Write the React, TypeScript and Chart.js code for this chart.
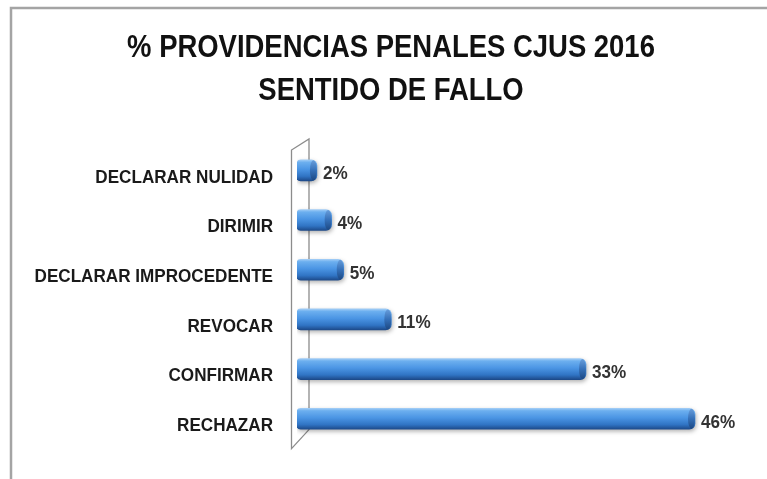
import React, { useEffect, useRef } from 'react';
import { Chart, registerables } from 'chart.js';

Chart.register(...registerables);

const TITLE_LINES = ['% PROVIDENCIAS PENALES CJUS 2016', 'SENTIDO DE FALLO'];
const CATEGORIES = [
  'DECLARAR NULIDAD',
  'DIRIMIR',
  'DECLARAR IMPROCEDENTE',
  'REVOCAR',
  'CONFIRMAR',
  'RECHAZAR',
];
// percentages (labels show them rounded)
const VALUES = [2.3, 4.0, 5.4, 10.9, 33.4, 46.0];
const X_MIN = 0;
const X_MAX = 50;

const FONT = '"Liberation Sans", Arial, Helvetica, sans-serif';
const BAR_H = 21;
const SQUEEZE = 0.9;
const TICK_PAD = 24;

const decorPlugin = {
  id: 'decor',
  afterLayout(chart: any) {
    const s = chart.scales && chart.scales.y;
    if (s && !s.__squeezed) {
      const orig = s.drawLabels.bind(s);
      s.drawLabels = (area: any) => {
        const ctx = s.ctx;
        const ax = s.right - TICK_PAD;
        ctx.save();
        ctx.translate(ax, 0);
        ctx.scale(SQUEEZE, 1);
        ctx.translate(-ax, 0);
        orig(area);
        ctx.restore();
      };
      s.__squeezed = true;
    }
  },
  beforeDraw(chart: any) {
    const { ctx } = chart;
    ctx.save();
    ctx.fillStyle = '#ffffff';
    ctx.fillRect(0, 0, chart.width, chart.height);
    // outer frame (top & left)
    ctx.strokeStyle = '#a4a4a4';
    ctx.lineWidth = 2.5;
    ctx.beginPath();
    ctx.moveTo(11, chart.height + 5);
    ctx.lineTo(11, 8);
    ctx.lineTo(chart.width + 5, 8);
    ctx.stroke();
    // title
    ctx.fillStyle = '#111111';
    ctx.font = `bold 30.5px ${FONT}`;
    ctx.textAlign = 'center';
    ctx.textBaseline = 'alphabetic';
    TITLE_LINES.forEach((t, i) => {
      ctx.save();
      ctx.translate(391, 57 + i * 43);
      ctx.scale(SQUEEZE, 1);
      ctx.fillText(t, 0, 0);
      ctx.restore();
    });
    ctx.restore();
  },
  beforeDatasetsDraw(chart: any) {
    const { ctx, chartArea: a } = chart;
    ctx.save();
    ctx.strokeStyle = '#8c8c8c';
    ctx.lineWidth = 1.3;
    const fx = a.left - 5.5;
    const bx = a.left + 12;
    ctx.beginPath();
    ctx.moveTo(fx, a.top + 4.5);
    ctx.lineTo(fx, a.bottom + 5);
    ctx.lineTo(bx, a.bottom - 14);
    ctx.lineTo(bx, a.top - 6.5);
    ctx.closePath();
    ctx.stroke();
    ctx.restore();
    ctx.save();
    ctx.shadowColor = 'rgba(0,0,0,0.3)';
    ctx.shadowBlur = 4;
    ctx.shadowOffsetX = 1;
    ctx.shadowOffsetY = 2;
  },
  afterDatasetsDraw(chart: any) {
    const { ctx } = chart;
    ctx.restore();
    const meta = chart.getDatasetMeta(0);
    meta.data.forEach((el: any, i: number) => {
      const { x, y, height } = el.getProps(['x', 'y', 'height'], true);
      const h = height;
      if (![x, y, h].every(Number.isFinite)) return;
      // darker end cap of the cylinder
      const g = ctx.createLinearGradient(0, y - h / 2, 0, y + h / 2);
      g.addColorStop(0, '#6a9fdc');
      g.addColorStop(0.5, '#3570b8');
      g.addColorStop(1, '#1b4680');
      ctx.save();
      ctx.fillStyle = g;
      ctx.beginPath();
      ctx.ellipse(x - 3.5, y, 3.5, h / 2 - 0.5, 0, 0, Math.PI * 2);
      ctx.fill();
      ctx.restore();
      // value label
      ctx.save();
      ctx.fillStyle = '#333333';
      ctx.font = `bold 19px ${FONT}`;
      ctx.textAlign = 'left';
      ctx.textBaseline = 'alphabetic';
      ctx.translate(x + 6, y + 9);
      ctx.scale(SQUEEZE, 1);
      ctx.fillText(`${Math.round(VALUES[i])}%`, 0, 0);
      ctx.restore();
    });
  },
};

export default function App() {
  const ref = useRef<HTMLCanvasElement | null>(null);

  useEffect(() => {
    if (!ref.current) return;
    const chart = new Chart(ref.current, {
      type: 'bar',
      data: {
        labels: CATEGORIES,
        datasets: [
          {
            data: VALUES,
            barThickness: BAR_H,
            borderSkipped: false,
            borderRadius: { topLeft: 4, bottomLeft: 4, topRight: 6, bottomRight: 6 },
            backgroundColor: (c: any) => {
              const chart = c.chart;
              const ys = chart.scales && chart.scales.y;
              if (!ys || c.dataIndex === undefined) return '#4a93e3';
              const cy = ys.getPixelForValue(c.dataIndex);
              if (!Number.isFinite(cy)) return '#4a93e3';
              const g = chart.ctx.createLinearGradient(0, cy - BAR_H / 2, 0, cy + BAR_H / 2);
              g.addColorStop(0, '#a2cdf6');
              g.addColorStop(0.12, '#6cafef');
              g.addColorStop(0.45, '#4b95e4');
              g.addColorStop(0.78, '#3074c4');
              g.addColorStop(1, '#1d4a8a');
              return g;
            },
          } as any,
        ],
      },
      options: {
        indexAxis: 'y',
        responsive: false,
        animation: false,
        devicePixelRatio: 1,
        layout: { padding: { top: 145.5, bottom: 28, left: 0, right: 37.4 } },
        plugins: {
          legend: { display: false },
          title: { display: false },
          tooltip: { enabled: false },
        },
        scales: {
          x: { display: false, min: X_MIN, max: X_MAX },
          y: {
            afterFit: (s: any) => {
              s.width = 297;
            },
            grid: { display: false, drawTicks: false },
            border: { display: false },
            ticks: {
              autoSkip: false,
              padding: TICK_PAD,
              labelOffset: 7,
              color: '#1a1a1a',
              font: { family: FONT, size: 19, weight: 'bold' },
            },
          },
        },
      } as any,
      plugins: [decorPlugin],
    });
    return () => chart.destroy();
  }, []);

  return (
    <div style={{ position: 'absolute', left: 0, top: 0, width: 767, height: 479, background: '#fff' }}>
      <canvas ref={ref} width={767} height={479} style={{ display: 'block' }} />
    </div>
  );
}
